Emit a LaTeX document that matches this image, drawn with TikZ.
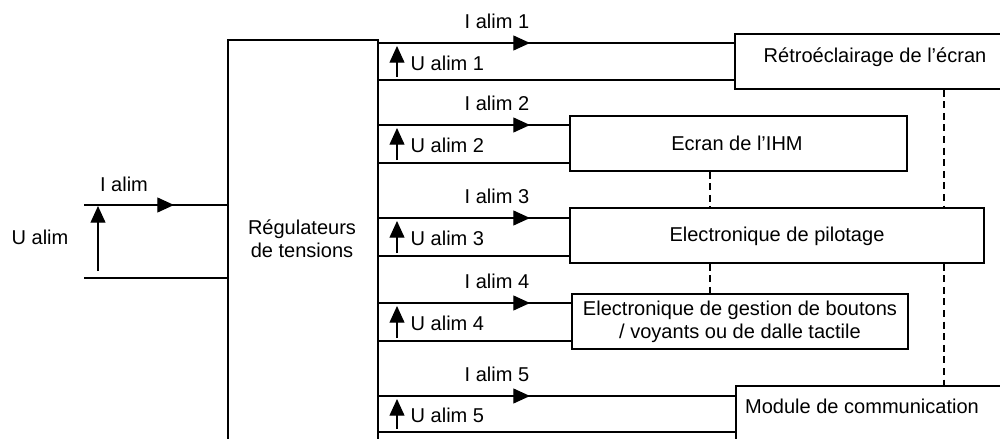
\documentclass[tikz,border=0pt]{standalone}
\usepackage{fontspec}
\setmainfont{Liberation Sans}
\usetikzlibrary{arrows.meta,fit}
\newcommand{\myfs}{\fontsize{11.4pt}{12.9pt}\selectfont}
\begin{document}
\begin{tikzpicture}[x=0.02cm,y=-0.02cm,line width=0.75pt,
  box/.style={draw,fill=white,inner sep=0pt},
  lbl/.style={inner sep=0pt,align=center,font=\myfs},
  arr/.style={-{Triangle[length=9.5pt,width=8.5pt]}},
  dsh/.style={line width=0.7pt,dash pattern=on 4pt off 2.6pt}]
\clip (0,0) rectangle (1000,439);
% regulator
\node[box,fit={(228,40) (378,480)}] (reg) {};
\node[lbl] (regt) at (302,239) {Régulateurs\\de tensions};
% boxes
\node[box,fit={(735,34) (1030,89)}] (b1) {};
\node[lbl] (b1t) at (875,57) {Rétroéclairage de l’écran};
\node[box,fit={(570,116) (907,171)}] (b2) {};
\node[lbl] (b2t) at (737,143.5) {Ecran de l’IHM};
\node[box,fit={(570,208) (984,263)}] (b3) {};
\node[lbl] (b3t) at (777,236.5) {Electronique de pilotage};
\node[box,fit={(572,294) (908,349)}] (b4) {};
\node[lbl] (b4t) at (740,322) {Electronique de gestion de boutons\\/ voyants ou de dalle tactile};
\node[box,fit={(736,386) (1030,480)}] (b5) {};
\node[lbl] (b5t) at (862,406) {Module de communication};
% input
\coordinate (in1) at (84,205);
\coordinate (in2) at (84,278);
\draw (in1) -- (in1 -| reg.west);
\draw[arr] (in1) -- (174,205);
\draw (in2) -- (in2 -| reg.west);
\draw[arr] (98,271) -- (98,206);
\node[lbl] (ia) at (124,184) {I alim};
\node[lbl] (ua) at (40,237) {U alim};
% channels
\foreach \i/\t/\b in {1/43/80,2/125/163,3/218/256,4/303/341,5/396/432}{
  \coordinate (t\i) at (378,\t);
  \coordinate (u\i) at (378,\b);
  \draw (t\i) -- (t\i -| b\i.west);
  \draw (u\i) -- (u\i -| b\i.west);
  \draw[arr] (t\i) -- (530,\t);
  \draw[arr] (397,\b-3) -- (397,\t+3);
  \node[lbl] (il\i) at (497,\t-22) {I alim \i};
  \node[lbl,anchor=west] (ul\i) at (410,{(\t+\b)/2+1.5}) {U alim \i};
}
% dashed links
\coordinate (d1) at (944,0);
\coordinate (d2) at (710,0);
\draw[dsh] (d1 |- b1.south) -- (d1 |- b3.north);
\draw[dsh] (d1 |- b3.south) -- (d1 |- b5.north);
\draw[dsh] (d2 |- b2.south) -- (d2 |- b3.north);
\draw[dsh] (d2 |- b3.south) -- (d2 |- b4.north);
\end{tikzpicture}
\end{document}
